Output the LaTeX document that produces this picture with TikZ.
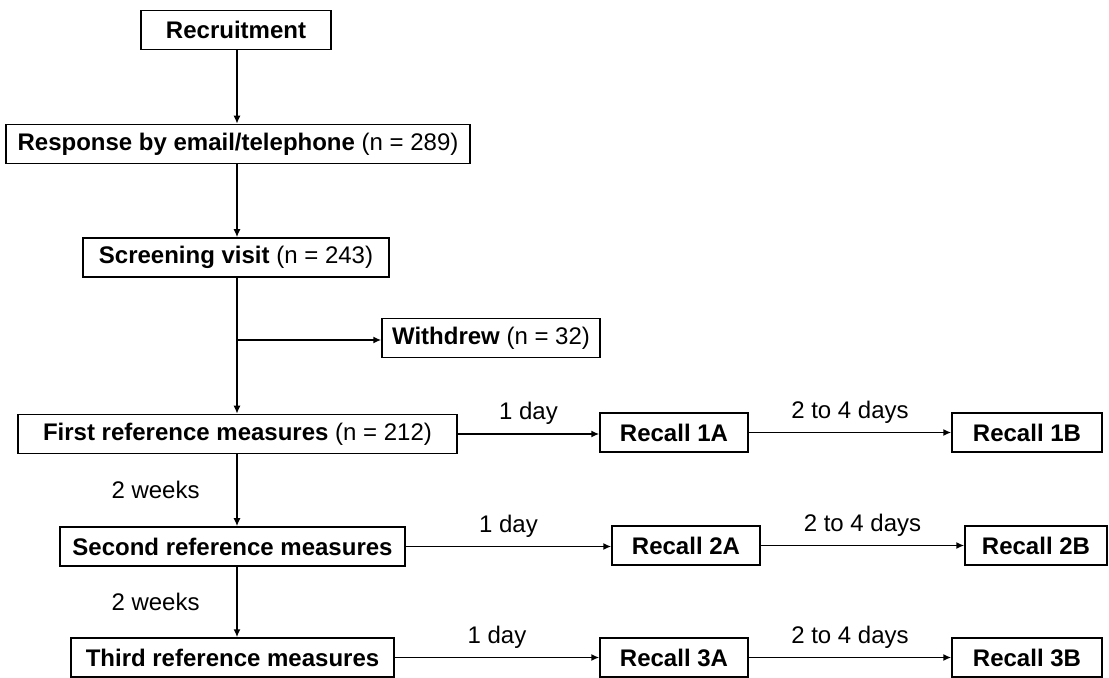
\documentclass[tikz,border=0pt]{standalone}
\usepackage{fontspec}
\setmainfont{Liberation Sans}
\usetikzlibrary{arrows.meta,positioning}

\tikzset{
  stagebox/.style={draw, line width=0.75pt, minimum height=19.5pt, inner sep=0pt,
    font=\fontsize{12}{14}\selectfont},
  flow/.style={line width=0.75pt, -{Latex[length=4pt,width=3.5pt]}},
  gaplabel/.style={font=\fontsize{12}{14}\selectfont}
}

\begin{document}
\begin{tikzpicture}[x=0.5pt,y=-0.5pt]
  \useasboundingbox (0,0) rectangle (1109,678);
  % Enrolment column
  \node[stagebox, minimum width=95pt] (recruit) at (236,30) {\textbf{Recruitment}};
  \node[stagebox, minimum width=232pt] (response) at (238,144) {\textbf{Response by email/telephone} (n = 289)};
  \node[stagebox, minimum width=153pt] (screen) at (236,257.5) {\textbf{Screening visit} (n = 243)};
  \node[stagebox, minimum width=109pt] (withdrew) at (491,338) {\textbf{Withdrew} (n = 32)};
  \node[stagebox, minimum width=219.5pt] (first) at (237.5,434) {\textbf{First reference measures} (n = 212)};
  \node[stagebox, minimum width=172.5pt] (second) at (232.5,546.5) {\textbf{Second reference measures}};
  \node[stagebox, minimum width=161.5pt] (third) at (232.5,657.5) {\textbf{Third reference measures}};
  % Recall boxes
  \node[stagebox, minimum width=74pt] (recA1) at (674,432.5) {\textbf{Recall 1A}};
  \node[stagebox, minimum width=75pt] (recB1) at (1027,432.5) {\textbf{Recall 1B}};
  \node[stagebox, minimum width=74pt] (recA2) at (686,545.5) {\textbf{Recall 2A}};
  \node[stagebox, minimum width=71pt] (recB2) at (1036,545.5) {\textbf{Recall 2B}};
  \node[stagebox, minimum width=74pt] (recA3) at (674,657.5) {\textbf{Recall 3A}};
  \node[stagebox, minimum width=75pt] (recB3) at (1027,657.5) {\textbf{Recall 3B}};

  % Main spine
  \coordinate (spine) at (237,0);
  \coordinate (split) at (237,340);
  \draw[flow] (recruit.south -| spine) -- (response.north -| spine);
  \draw[flow] (response.south -| spine) -- (screen.north -| spine);
  \draw[flow] (screen.south -| spine) -- (first.north -| spine);
  \draw[flow] (split) -- (split -| withdrew.west);
  \draw[flow] (first.south -| spine) -- node[gaplabel, midway, left=15pt] {2 weeks} (second.north -| spine);
  \draw[flow] (second.south -| spine) -- node[gaplabel, midway, left=15pt] {2 weeks} (third.north -| spine);

  % Recall arrows
  \draw[flow] (first.east) -- node[gaplabel, midway, above=1pt] {1 day} (first.east -| recA1.west);
  \draw[flow] (recA1.east) -- node[gaplabel, midway, above=1pt] {2 to 4 days} (recB1.west);
  \draw[flow] (second.east) -- node[gaplabel, midway, above=1pt] {1 day} (second.east -| recA2.west);
  \draw[flow] (recA2.east) -- node[gaplabel, midway, above=1pt] {2 to 4 days} (recB2.west);
  \draw[flow] (third.east) -- node[gaplabel, midway, above=1pt] {1 day} (recA3.west);
  \draw[flow] (recA3.east) -- node[gaplabel, midway, above=1pt] {2 to 4 days} (recB3.west);
\end{tikzpicture}
\end{document}
